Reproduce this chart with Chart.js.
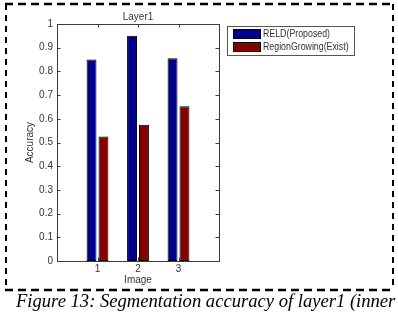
<!DOCTYPE html>
<html>
<head>
<meta charset="utf-8">
<script src="https://cdn.jsdelivr.net/npm/chart.js@4.4.1/dist/chart.umd.min.js"></script>
<style>
    html, body {
        margin: 0;
        padding: 0;
        background: #ffffff;
    }
    #wrap {
        position: relative;
        width: 398px;
        height: 312px;
        overflow: hidden;
    }
    #frame {
        position: absolute;
        left: 0;
        top: 0;
        width: 398px;
        height: 294px;
    }
    #caption {
        position: absolute;
        left: 16px;
        top: 290px;
        white-space: nowrap;
        font-family: "Liberation Serif", "Times New Roman", serif;
        font-style: italic;
        font-size: 18.6px;
        color: #000;
    }
</style>
</head>
<body>
<div id="wrap">
    <canvas id="frame" width="398" height="294"></canvas>
    <div id="caption">Figure 13: Segmentation accuracy of layer1 (inner</div>
</div>
<script>
const categories = ["1", "2", "3"];
const seriesNames = ["RELD(Proposed)", "RegionGrowing(Exist)"];
const reldValues = [0.85, 0.95, 0.855];
const regionGrowingValues = [0.525, 0.575, 0.653];
const yTicks = [0, 0.1, 0.2, 0.3, 0.4, 0.5, 0.6, 0.7, 0.8, 0.9, 1];

const axisColor = "#3a3a3a";
const textColor = "#333333";
const fontFamily = "'Liberation Sans', Arial, sans-serif";

function toPoints(values) {
    return categories.map(function (c, i) {
        return { x: Number(c), y: values[i] };
    });
}

// dashed outer frame like in the paper figure
const outerFramePlugin = {
    id: "outerFrame",
    afterDraw: function (chart) {
        const ctx = chart.ctx;
        ctx.save();
        ctx.strokeStyle = "#000";
        ctx.setLineDash([8, 5]);
        ctx.lineWidth = 2.5;
        ctx.beginPath();
        ctx.moveTo(5, 4);
        ctx.lineTo(393, 4);
        ctx.moveTo(5, 290);
        ctx.lineTo(393, 290);
        ctx.stroke();
        ctx.lineWidth = 2;
        ctx.setLineDash([6, 5]);
        ctx.beginPath();
        ctx.moveTo(6, 4);
        ctx.lineTo(6, 290);
        ctx.moveTo(393, 4);
        ctx.lineTo(393, 290);
        ctx.stroke();
        ctx.restore();
    }
};

// matlab style box with inward ticks
const axesBoxPlugin = {
    id: "axesBox",
    afterDatasetsDraw: function (chart) {
        const ctx = chart.ctx;
        const area = chart.chartArea;
        const xs = chart.scales.x;
        const ys = chart.scales.y;
        const len = 3.5;

        ctx.save();
        ctx.strokeStyle = axisColor;
        ctx.lineWidth = 1;
        ctx.strokeRect(Math.round(area.left) + 0.5, Math.round(area.top) + 0.5,
            Math.round(area.right - area.left), Math.round(area.bottom - area.top));

        ctx.beginPath();
        yTicks.forEach(function (v) {
            const py = Math.round(ys.getPixelForValue(v)) + 0.5;
            ctx.moveTo(area.left, py);
            ctx.lineTo(area.left + len, py);
            ctx.moveTo(area.right, py);
            ctx.lineTo(area.right - len, py);
        });
        categories.forEach(function (c) {
            const px = Math.round(xs.getPixelForValue(Number(c))) + 0.5;
            ctx.moveTo(px, area.bottom);
            ctx.lineTo(px, area.bottom - len);
            ctx.moveTo(px, area.top);
            ctx.lineTo(px, area.top + len);
        });
        ctx.stroke();
        ctx.restore();
    }
};

const boxLegendPlugin = {
    id: "boxLegend",
    afterDraw: function (chart) {
        const ctx = chart.ctx;
        const left = 227;
        const top = 26;
        const width = 127;
        const height = 29;

        ctx.save();
        ctx.fillStyle = "#ffffff";
        ctx.fillRect(left, top, width, height);
        ctx.strokeStyle = "#555555";
        ctx.lineWidth = 1;
        ctx.strokeRect(left + 0.5, top + 0.5, width, height);

        ctx.font = "10px " + fontFamily;
        ctx.textBaseline = "middle";
        chart.data.datasets.forEach(function (ds, i) {
            const rowY = top + 3 + i * 13;
            ctx.fillStyle = ds.backgroundColor;
            ctx.fillRect(left + 6, rowY, 28, 10);
            ctx.strokeStyle = "#000";
            ctx.strokeRect(left + 6.5, rowY + 0.5, 27, 9);
            ctx.fillStyle = textColor;
            ctx.save();
            ctx.translate(left + 36, rowY + 5.5);
            ctx.scale(0.88, 1);
            ctx.fillText(ds.label, 0, 0);
            ctx.restore();
        });
        ctx.restore();
    }
};

const ctx = document.getElementById("frame");

new Chart(ctx, {
    type: "bar",
    plugins: [axesBoxPlugin, boxLegendPlugin, outerFramePlugin],
    data: {
        datasets: [
            {
                label: seriesNames[0],
                data: toPoints(reldValues),
                backgroundColor: "#00008c",
                borderColor: "#000000",
                borderWidth: 1,
                borderSkipped: false
            },
            {
                label: seriesNames[1],
                data: toPoints(regionGrowingValues),
                backgroundColor: "#850000",
                borderColor: "#000000",
                borderWidth: 1,
                borderSkipped: false
            }
        ]
    },
    options: {
        responsive: false,
        animation: false,
        devicePixelRatio: 1,
        categoryPercentage: 0.59,
        barPercentage: 0.83,
        layout: {
            padding: {
                top: 0,
                right: 179,
                bottom: 8,
                left: 24
            }
        },
        plugins: {
            legend: { display: false },
            tooltip: { enabled: false },
            title: {
                display: true,
                text: "Layer1",
                fullSize: false,
                color: textColor,
                font: { family: fontFamily, size: 10, weight: "normal" },
                padding: { top: 11, bottom: 1 }
            }
        },
        scales: {
            x: {
                type: "linear",
                min: 0,
                max: 4,
                offset: false,
                afterFit: function (scale) {
                    scale.height = 25;
                },
                afterBuildTicks: function (scale) {
                    scale.ticks = categories.map(function (c) {
                        return { value: Number(c) };
                    });
                },
                ticks: {
                    color: textColor,
                    padding: 2,
                    maxRotation: 0,
                    font: { family: fontFamily, size: 10 },
                    callback: function (v) {
                        return String(v);
                    }
                },
                grid: { display: false, drawTicks: false },
                border: { display: false },
                title: {
                    display: true,
                    text: "Image",
                    color: textColor,
                    padding: 0,
                    font: { family: fontFamily, size: 10 }
                }
            },
            y: {
                min: 0,
                max: 1,
                afterFit: function (scale) {
                    scale.width = 33;
                },
                afterBuildTicks: function (scale) {
                    scale.ticks = yTicks.map(function (v) {
                        return { value: v };
                    });
                },
                ticks: {
                    color: textColor,
                    padding: 4,
                    font: { family: fontFamily, size: 10 },
                    callback: function (v) {
                        return String(Math.round(v * 10) / 10);
                    }
                },
                grid: { display: false, drawTicks: false },
                border: { display: false },
                title: {
                    display: true,
                    text: "Accuracy",
                    color: textColor,
                    padding: 0,
                    font: { family: fontFamily, size: 10 }
                }
            }
        }
    }
});
</script>
</body>
</html>
